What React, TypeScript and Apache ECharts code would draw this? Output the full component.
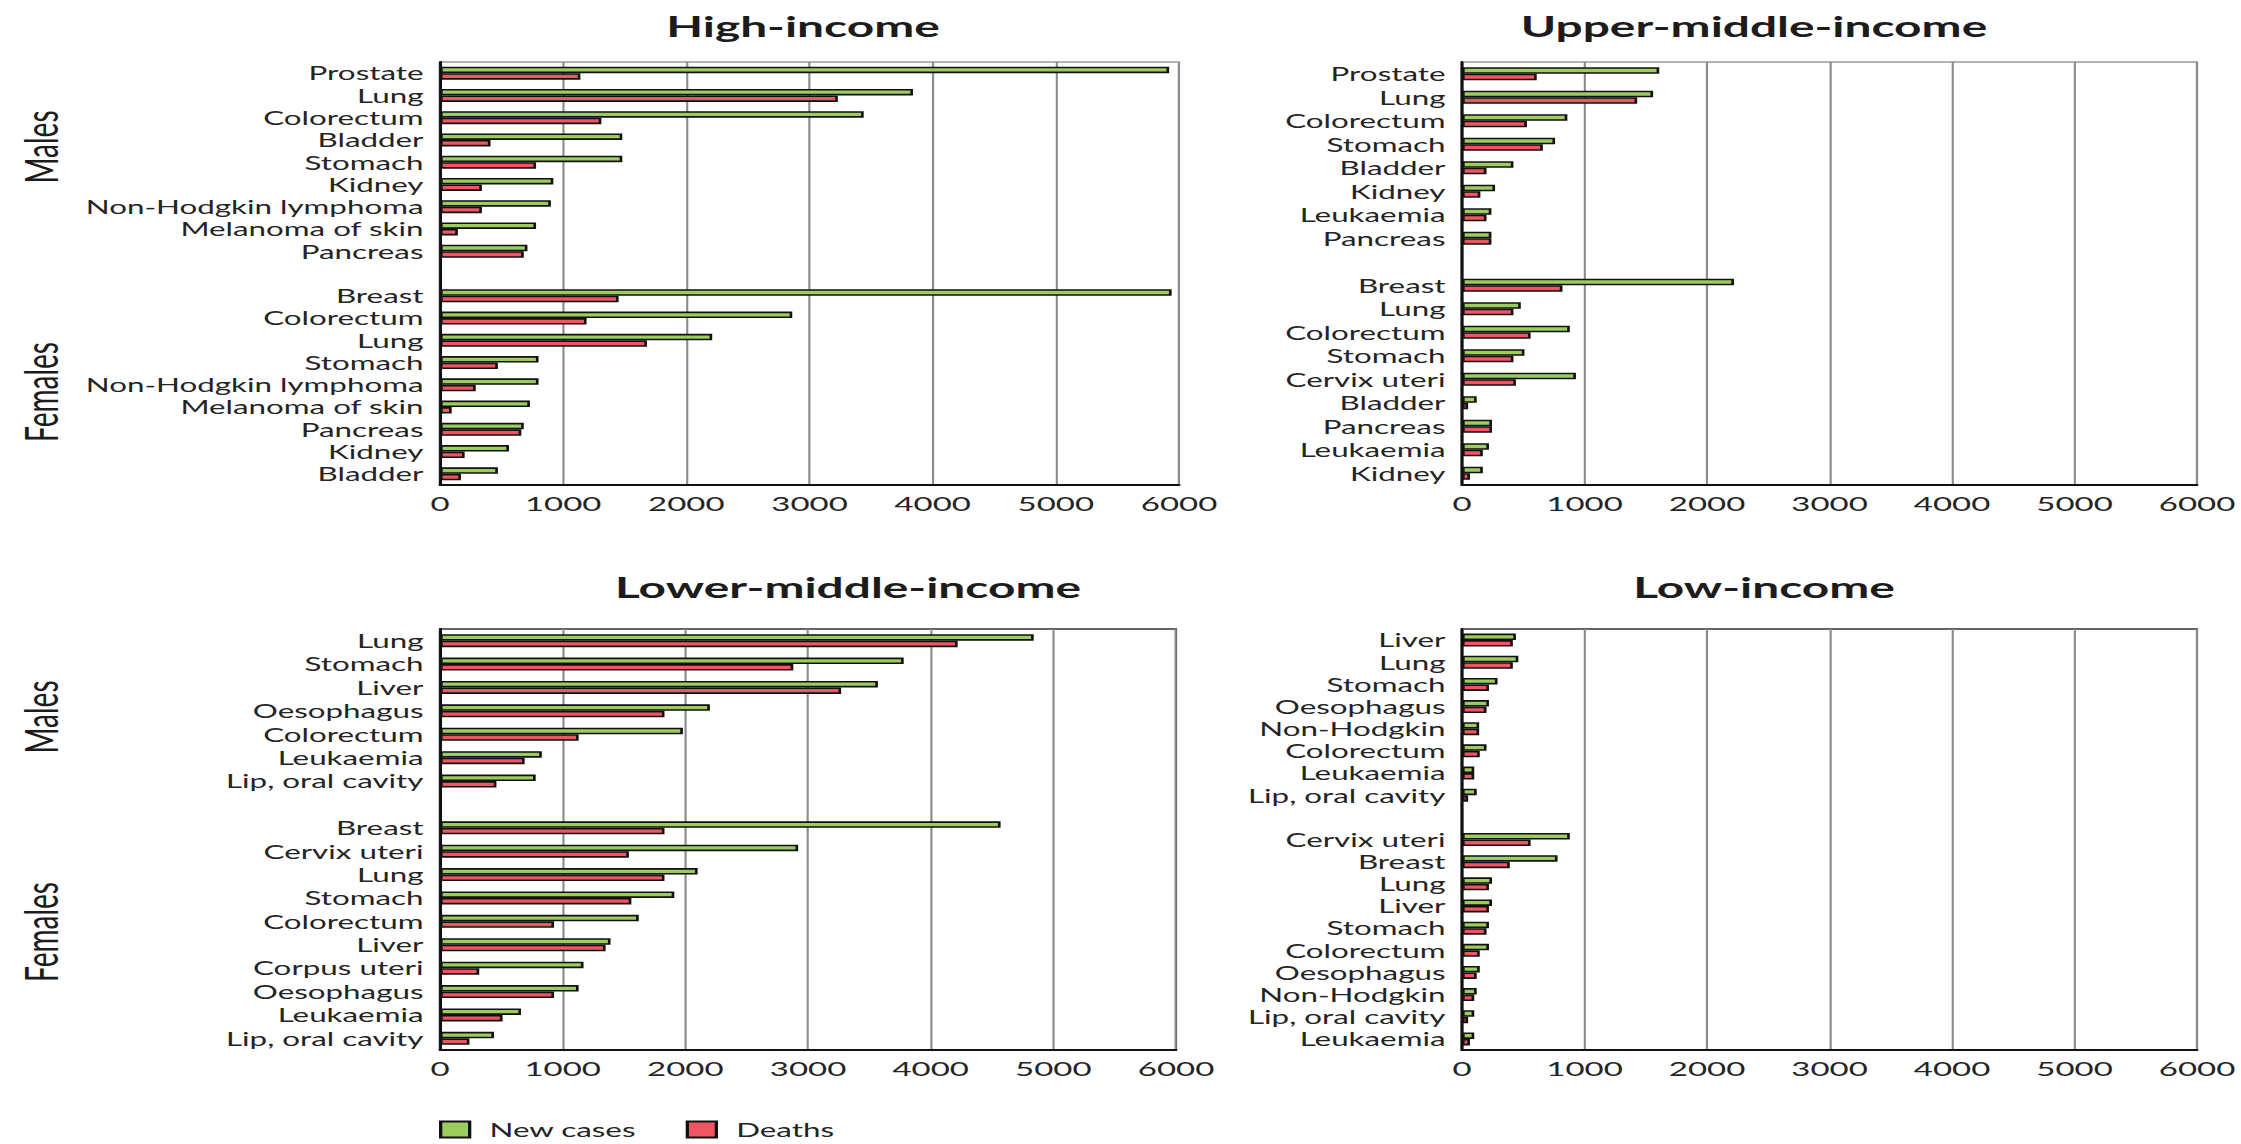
import React, { useEffect, useRef } from "react";
import * as echarts from "echarts";

// ---- data -------------------------------------------------------------
const seriesNames = ["New cases", "Deaths"];
const xTicks = [0, 1000, 2000, 3000, 4000, 5000, 6000];
const panelTitles = ["High-income", "Upper-middle-income", "Lower-middle-income", "Low-income"];
const sexLabels = ["Males", "Females"];

// High-income (males, spacer, females)
const highCategories = [
  "Prostate", "Lung", "Colorectum", "Bladder", "Stomach", "Kidney", "Non-Hodgkin lymphoma", "Melanoma of skin", "Pancreas",
  "",
  "Breast", "Colorectum", "Lung", "Stomach", "Non-Hodgkin lymphoma", "Melanoma of skin", "Pancreas", "Kidney", "Bladder",
];
const highNew = [5920, 3840, 3440, 1480, 1480, 920, 900, 780, 710, null, 5940, 2860, 2210, 800, 800, 730, 680, 560, 470];
const highDeaths = [1140, 3230, 1310, 410, 780, 340, 340, 145, 680, null, 1450, 1190, 1680, 470, 290, 95, 660, 200, 170];

// Upper-middle-income
const upperCategories = [
  "Prostate", "Lung", "Colorectum", "Stomach", "Bladder", "Kidney", "Leukaemia", "Pancreas",
  "",
  "Breast", "Lung", "Colorectum", "Stomach", "Cervix uteri", "Bladder", "Pancreas", "Leukaemia", "Kidney",
];
const upperNew = [1610, 1560, 860, 760, 420, 270, 240, 240, null, 2220, 480, 880, 510, 930, 120, 245, 220, 170];
const upperDeaths = [610, 1430, 530, 660, 200, 150, 200, 240, null, 820, 420, 560, 420, 440, 50, 245, 170, 65];

// Lower-middle-income
const lowerCategories = [
  "Lung", "Stomach", "Liver", "Oesophagus", "Colorectum", "Leukaemia", "Lip, oral cavity",
  "",
  "Breast", "Cervix uteri", "Lung", "Stomach", "Colorectum", "Liver", "Corpus uteri", "Oesophagus", "Leukaemia", "Lip, oral cavity",
];
const lowerNew = [4840, 3780, 3570, 2200, 1980, 830, 780, null, 4570, 2920, 2100, 1910, 1620, 1390, 1170, 1130, 660, 440];
const lowerDeaths = [4220, 2880, 3270, 1830, 1130, 690, 460, null, 1830, 1540, 1830, 1560, 930, 1350, 320, 930, 510, 240];

// Low-income
const lowCategories = [
  "Liver", "Lung", "Stomach", "Oesophagus", "Non-Hodgkin", "Colorectum", "Leukaemia", "Lip, oral cavity",
  "",
  "Cervix uteri", "Breast", "Lung", "Liver", "Stomach", "Colorectum", "Oesophagus", "Non-Hodgkin", "Lip, oral cavity", "Leukaemia",
];
const lowNew = [440, 460, 290, 220, 140, 200, 100, 120, null, 880, 780, 245, 245, 220, 220, 145, 120, 100, 100];
const lowDeaths = [415, 415, 220, 200, 140, 145, 100, 50, null, 560, 390, 220, 220, 200, 145, 120, 100, 50, 65];

// ---- layout -----------------------------------------------------------
const PAGE_W = 2241;
const PAGE_H = 1144;
// the whole figure is drawn narrow and widened with a horizontal stretch
const STRETCH = 1.65;
const sx = (x: number) => x / STRETCH;

const GREEN = "#9ccb5e";
const RED = "#ee5663";
const INK = "#242424";
const FONT = "Lato, 'Open Sans', sans-serif";

type Panel = {
  categories: string[];
  newCases: (number | null)[];
  deaths: (number | null)[];
  left: number;
  right: number;
  top: number;
  bottom: number;
  frame: string;
  titleX: number;
  titleY: number;
};

const panels: Panel[] = [
  { categories: highCategories, newCases: highNew, deaths: highDeaths, left: 440, right: 1179, top: 62, bottom: 485, frame: "#9a9a9a", titleX: 803, titleY: 26 },
  { categories: upperCategories, newCases: upperNew, deaths: upperDeaths, left: 1462, right: 2197, top: 62, bottom: 485, frame: "#9a9a9a", titleX: 1754, titleY: 26 },
  { categories: lowerCategories, newCases: lowerNew, deaths: lowerDeaths, left: 440, right: 1176, top: 629, bottom: 1050, frame: "#333333", titleX: 848, titleY: 587 },
  { categories: lowCategories, newCases: lowNew, deaths: lowDeaths, left: 1462, right: 2197, top: 629, bottom: 1050, frame: "#333333", titleX: 1764, titleY: 587 },
];

const sideLabels = [
  { text: sexLabels[0], y: 147 },
  { text: sexLabels[1], y: 392 },
  { text: sexLabels[0], y: 717 },
  { text: sexLabels[1], y: 932 },
];

function buildOption(): echarts.EChartsOption {
  const grid = panels.map((p) => ({
    left: sx(p.left),
    width: sx(p.right - p.left),
    top: p.top,
    height: p.bottom - p.top,
    show: true,
    borderColor: p.frame,
    borderWidth: 1.3,
    backgroundColor: "transparent",
    containLabel: false,
  }));

  const xAxis = panels.map((_, i) => ({
    gridIndex: i,
    type: "value" as const,
    min: xTicks[0],
    max: xTicks[xTicks.length - 1],
    interval: xTicks[1] - xTicks[0],
    axisLine: { show: true, lineStyle: { color: "#111", width: 1.8 } },
    axisTick: { show: false },
    splitLine: { show: true, lineStyle: { color: "#8c8c8c", width: 1.3 } },
    axisLabel: {
      fontFamily: FONT,
      fontSize: 20,
      color: INK,
      margin: 8,
      formatter: (v: number) => String(v),
    },
  }));

  const yAxis = panels.map((p, i) => ({
    gridIndex: i,
    type: "category" as const,
    inverse: true,
    data: p.categories,
    axisLine: { show: true, lineStyle: { color: "#111", width: 1.8 } },
    axisTick: { show: false },
    splitLine: { show: false },
    axisLabel: { interval: 0, fontFamily: FONT, fontSize: 19, color: INK, margin: 10 },
  }));

  const series: any[] = [];
  panels.forEach((p, i) => {
    series.push({
      type: "bar",
      name: seriesNames[0],
      xAxisIndex: i,
      yAxisIndex: i,
      data: p.newCases,
      barWidth: 6.5,
      barGap: "0%",
      itemStyle: { color: GREEN, borderColor: "#111", borderWidth: 1.6 },
      emphasis: { disabled: true },
    });
    series.push({
      type: "bar",
      name: seriesNames[1],
      xAxisIndex: i,
      yAxisIndex: i,
      data: p.deaths,
      barWidth: 6.5,
      barGap: "0%",
      itemStyle: { color: RED, borderColor: "#111", borderWidth: 1.6 },
      emphasis: { disabled: true },
    });
  });

  const graphic: any[] = [
    ...panels.map((p, i) => ({
      type: "text",
      x: sx(p.titleX),
      y: p.titleY,
      silent: true,
      style: {
        text: panelTitles[i],
        font: `bold 29px ${FONT}`,
        fill: "#1c1c1c",
        align: "center",
        verticalAlign: "middle",
      },
    })),
    ...sideLabels.map((s) => ({
      type: "text",
      x: sx(40),
      y: s.y,
      rotation: Math.PI / 2,
      silent: true,
      style: {
        text: s.text,
        font: `28px ${FONT}`,
        fill: "#1c1c1c",
        align: "center",
        verticalAlign: "middle",
      },
    })),
  ];

  return {
    animation: false,
    backgroundColor: "#ffffff",
    grid,
    xAxis,
    yAxis,
    series,
    graphic,
    legend: {
      data: seriesNames,
      left: sx(439),
      top: 1120,
      padding: 0,
      icon: "rect",
      itemWidth: sx(29),
      itemHeight: 16,
      itemGap: 30,
      selectedMode: false,
      textStyle: { fontFamily: FONT, fontSize: 19, color: INK, padding: [0, 0, 0, 7] },
    },
  };
}

export default function App() {
  const ref = useRef<HTMLDivElement>(null);

  useEffect(() => {
    document.body.style.margin = "0";
    if (!ref.current) return;
    const chart = echarts.init(ref.current, null, { renderer: "svg" });
    chart.setOption(buildOption());
    return () => chart.dispose();
  }, []);

  return (
    <div
      ref={ref}
      style={{
        position: "absolute",
        left: 0,
        top: 0,
        width: PAGE_W / STRETCH,
        height: PAGE_H,
        transform: `scaleX(${STRETCH})`,
        transformOrigin: "0 0",
        background: "#fff",
      }}
    />
  );
}
